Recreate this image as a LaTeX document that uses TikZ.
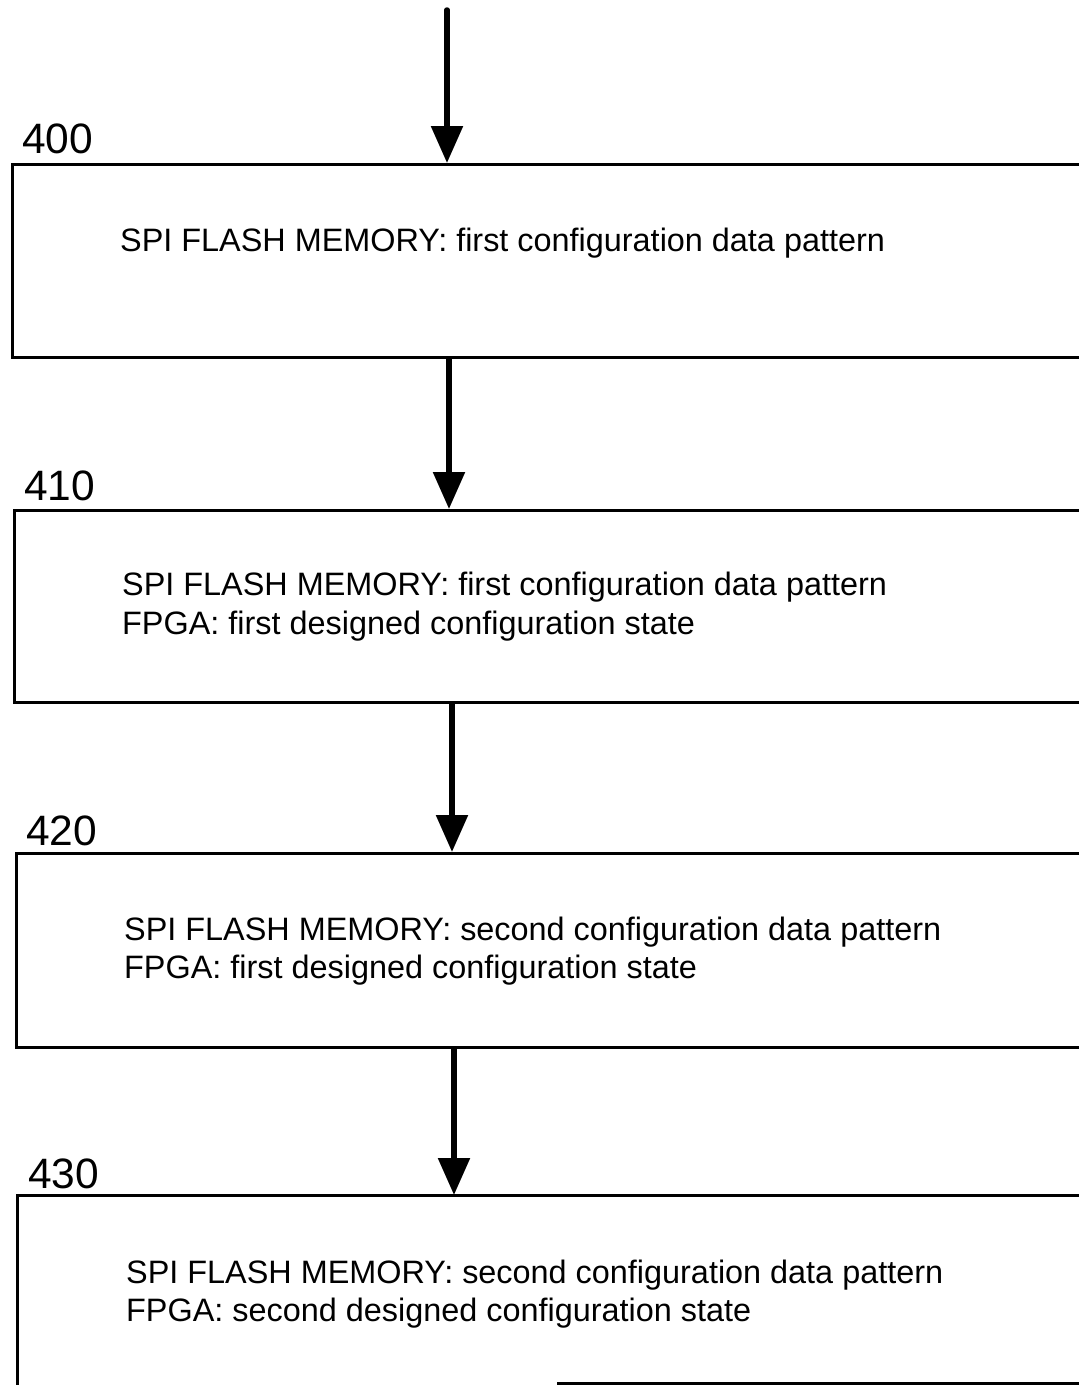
\documentclass[tikz,border=0pt]{standalone}
\usepackage{fontspec}
\setmainfont{Liberation Sans}
\usetikzlibrary{arrows.meta}
\begin{document}
\begin{tikzpicture}[x=1pt,y=-1pt,
  stage/.style={draw=black,line width=3pt,minimum width=1200pt,anchor=north west,inner sep=0pt},
  line/.style={anchor=base west,inner sep=0pt,font=\fontsize{32.4}{39}\selectfont},
  num/.style={anchor=base west,inner sep=0pt,font=\fontsize{42.5}{48}\selectfont},
  flow/.style={line width=5.5pt,-{Triangle[width=31pt,length=37pt]}}]
\useasboundingbox (0,0) rectangle (1079,1385);
\clip (0,0) rectangle (1079,1385);
\fill[white] (0,0) rectangle (1079,1385);

% step boxes, open to the right edge
\node[stage,minimum height=193pt] (b400) at (11,163) {};
\node[stage,minimum height=192pt] (b410) at (13,509) {};
\node[stage,minimum height=194pt] (b420) at (15,852) {};
\node[minimum width=1200pt,minimum height=190pt,anchor=north west,inner sep=0pt] (b430) at (17,1195) {};
\draw[line width=3pt] (b430.south west) -- (b430.north west) -- (b430.north east);
\draw[line width=3pt] ([xshift=540pt,yshift=1.5pt]b430.south west) -- ([yshift=1.5pt]b430.south east);

% reference numerals
\node[num] (n400) at (22,153) {400};
\node[num] (n410) at (24,500) {410};
\node[num] (n420) at (26,845) {420};
\node[num] (n430) at (28,1188) {430};

% box contents
\node[line] (t400a) at (120,251) {SPI FLASH MEMORY: first configuration data pattern};
\node[line] (t410a) at (122,595) {SPI FLASH MEMORY: first configuration data pattern};
\node[line] (t410b) at (122,634) {FPGA: first designed configuration state};
\node[line] (t420a) at (124,940) {SPI FLASH MEMORY: second configuration data pattern};
\node[line] (t420b) at (124,978) {FPGA: first designed configuration state};
\node[line] (t430a) at (126,1283) {SPI FLASH MEMORY: second configuration data pattern};
\node[line] (t430b) at (126,1321) {FPGA: second designed configuration state};

% flow arrows
\coordinate (entry) at (447,10);
\draw[flow,line cap=round] (entry) -- ([xshift=436pt]b400.north west);
\draw[flow] ([xshift=438pt]b400.south west) -- ([xshift=436pt]b410.north west);
\draw[flow] ([xshift=439pt]b410.south west) -- ([xshift=437pt]b420.north west);
\draw[flow] ([xshift=439pt]b420.south west) -- ([xshift=437pt]b430.north west);
\end{tikzpicture}
\end{document}
